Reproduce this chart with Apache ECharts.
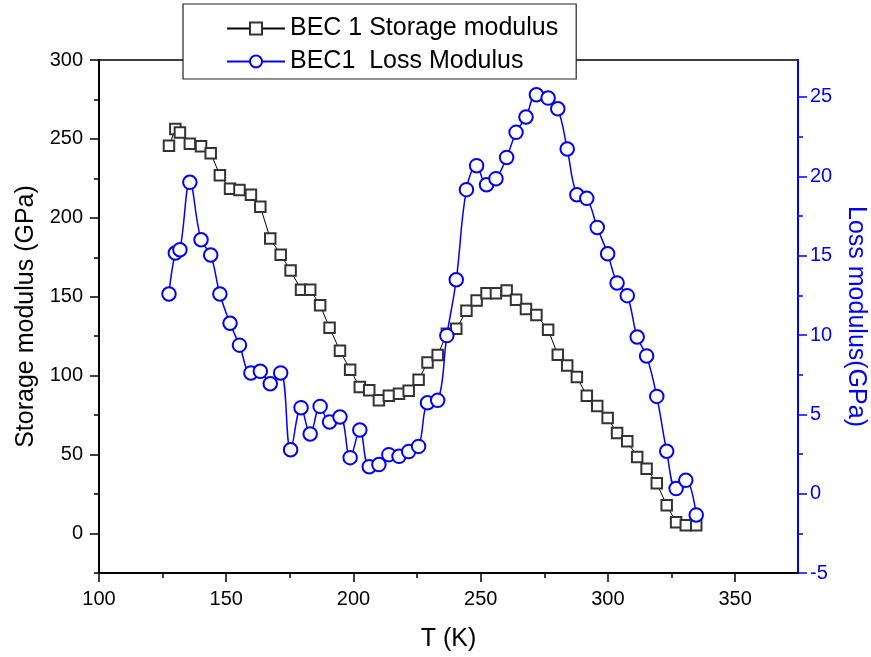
<!DOCTYPE html>
<html><head><meta charset="utf-8">
<script src="https://cdn.jsdelivr.net/npm/echarts@6/dist/echarts.min.js"></script>
<style>html,body{margin:0;padding:0;background:#fff}#c{width:871px;height:657px}</style>
</head><body><div id="c"></div>
<script>
// ---- data ----
const temperatureK = [127.5, 130.0, 131.8, 135.7, 140.1, 143.9, 147.5, 151.5, 155.2, 159.7,
  163.4, 167.3, 171.4, 175.3, 179.4, 183.0, 186.9, 190.6, 194.7, 198.7,
  202.5, 206.2, 210.0, 213.9, 217.9, 221.7, 225.6, 229.1, 233.1, 236.7,
  240.4, 244.4, 248.4, 252.3, 256.0, 260.2, 263.9, 267.8, 271.9, 276.5,
  280.3, 284.0, 287.8, 291.7, 295.8, 299.9, 303.6, 307.6, 311.5, 315.2,
  319.2, 323.1, 326.8, 330.6, 334.7];
const storageModulus = [245.6, 256.3, 254.0, 247.0, 245.4, 241.0, 227.0, 218.4, 217.7, 214.7,
  207.0, 186.9, 176.6, 166.6, 154.4, 154.4, 144.7, 130.4, 115.8, 103.8,
  92.8, 90.7, 84.4, 87.3, 88.6, 90.5, 97.5, 108.4, 113.1, 126.6,
  129.7, 141.1, 147.7, 152.3, 152.3, 154.0, 148.1, 142.2, 138.4, 129.1,
  113.3, 106.5, 99.2, 87.3, 80.8, 73.2, 63.7, 58.4, 48.5, 41.1,
  31.8, 17.9, 7.2, 5.3, 5.3];
const lossModulus = [12.58, 15.17, 15.37, 19.62, 16.00, 15.04, 12.58, 10.74, 9.36, 7.61,
  7.71, 6.93, 7.61, 2.77, 5.42, 3.76, 5.50, 4.52, 4.83, 2.27,
  4.01, 1.70, 1.83, 2.46, 2.35, 2.65, 2.98, 5.73, 5.88, 9.96,
  13.48, 19.16, 20.67, 19.47, 19.85, 21.19, 22.77, 23.74, 25.14, 24.93,
  24.26, 21.72, 18.84, 18.61, 16.78, 15.12, 13.28, 12.48, 9.87, 8.68,
  6.13, 2.67, 0.32, 0.84, -1.34];
const seriesNames = ['BEC 1 Storage modulus', 'BEC1  Loss Modulus'];
const axisTitles = ['T (K)', 'Storage modulus (GPa)', 'Loss modulus(GPa)'];
const xTicks = [100, 150, 200, 250, 300, 350];
const xMinorTicks = [125, 175, 225, 275, 325];
const leftTicks = [0, 50, 100, 150, 200, 250, 300];
const leftMinorTicks = [-25, 25, 75, 125, 175, 225, 275];
const rightTicks = [-5, 0, 5, 10, 15, 20, 25];
const rightMinorTicks = [-2.5, 2.5, 7.5, 12.5, 17.5, 22.5];

// ---- chart ----
const FONT = 'Liberation Sans, Arial, sans-serif';
const BLACK = '#000';
const BLUE = '#0000ff';
const xRange = [100, 374.7];
const leftRange = [-25, 300];
const rightRange = [-5, 27.33];

function minorAxis(range, ticks, color, pos) {
  return {
    type: 'value', min: range[0], max: range[1], position: pos,
    axisLine: { show: false, onZero: false },
    axisTick: { show: true, customValues: ticks, length: 5, lineStyle: { color: color, width: 1.5 } },
    axisLabel: { show: false }, splitLine: { show: false }
  };
}

const chart = echarts.init(document.getElementById('c'), null, { renderer: 'canvas' });
chart.setOption({
  animation: false,
  textStyle: { fontFamily: FONT },
  grid: { left: 99, right: 73, top: 60, bottom: 84, show: true, borderColor: BLACK, borderWidth: 1.5,
          containLabel: false, outerBoundsMode: 'none' },
  legend: {
    left: 183, top: 4, orient: 'vertical',
    padding: [12, 18, 5, 43], itemGap: 8, itemWidth: 58, itemHeight: 15,
    backgroundColor: '#fff', borderColor: '#222', borderWidth: 1.2,
    textStyle: { fontSize: 25, color: BLACK, fontFamily: FONT },
    data: seriesNames, z: 10
  },
  xAxis: [
    {
      type: 'value', min: xRange[0], max: xRange[1], position: 'bottom',
      name: axisTitles[0], nameLocation: 'middle', nameGap: 54,
      nameTextStyle: { fontSize: 25, color: BLACK, fontFamily: FONT },
      axisLine: { show: true, onZero: false, lineStyle: { color: BLACK, width: 2 } },
      axisTick: { show: true, customValues: xTicks, length: 9, lineStyle: { color: BLACK, width: 1.5 } },
      axisLabel: { show: true, customValues: xTicks, margin: 16, fontSize: 20, color: BLACK, fontFamily: FONT },
      splitLine: { show: false }
    },
    minorAxis(xRange, xMinorTicks, BLACK, 'bottom')
  ],
  yAxis: [
    {
      type: 'value', min: leftRange[0], max: leftRange[1], position: 'left',
      name: axisTitles[1], nameLocation: 'middle', nameGap: 59, nameRotate: 90,
      nameTextStyle: { fontSize: 25, color: BLACK, fontFamily: FONT },
      axisLine: { show: true, onZero: false, lineStyle: { color: BLACK, width: 2 } },
      axisTick: { show: true, customValues: leftTicks, length: 9, lineStyle: { color: BLACK, width: 1.5 } },
      axisLabel: { show: true, customValues: leftTicks, margin: 16, fontSize: 20, color: BLACK, fontFamily: FONT },
      splitLine: { show: false }
    },
    {
      type: 'value', min: rightRange[0], max: rightRange[1], position: 'right',
      name: axisTitles[2], nameLocation: 'middle', nameGap: 43, nameRotate: -90,
      nameTextStyle: { fontSize: 25, color: BLUE, fontFamily: FONT },
      axisLine: { show: true, onZero: false, lineStyle: { color: BLUE, width: 2 } },
      axisTick: { show: true, customValues: rightTicks, length: 9, lineStyle: { color: BLUE, width: 1.5 } },
      axisLabel: { show: true, customValues: rightTicks, margin: 12, fontSize: 20, color: BLUE, fontFamily: FONT },
      splitLine: { show: false }
    },
    minorAxis(leftRange, leftMinorTicks, BLACK, 'left'),
    minorAxis(rightRange, rightMinorTicks, BLUE, 'right')
  ],
  series: [
    {
      name: seriesNames[0], type: 'line', xAxisIndex: 0, yAxisIndex: 0,
      data: temperatureK.map((t, i) => [t, storageModulus[i]]),
      symbol: 'emptyRect', symbolSize: 10.5, showAllSymbol: true,
      lineStyle: { color: BLACK, width: 1 },
      itemStyle: { color: '#333', borderWidth: 1.3 },
      z: 2
    },
    {
      name: seriesNames[1], type: 'line', xAxisIndex: 0, yAxisIndex: 1,
      data: temperatureK.map((t, i) => [t, lossModulus[i]]),
      symbol: 'emptyCircle', symbolSize: 13.5, showAllSymbol: true, smooth: 0.4,
      lineStyle: { color: BLUE, width: 1.5 },
      itemStyle: { color: BLUE, borderWidth: 2 },
      z: 3
    }
  ]
});
</script></body></html>
